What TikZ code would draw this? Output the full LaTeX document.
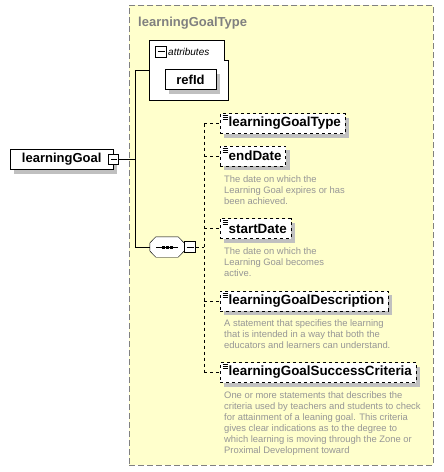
\documentclass[tikz,border=0pt]{standalone}
\usepackage{fontspec}
\setmainfont{Liberation Sans}
\usetikzlibrary{positioning,calc,shadows}
\definecolor{typeyellow}{RGB}{255,255,204}
\definecolor{titlegray}{RGB}{128,128,128}
\definecolor{docgray}{RGB}{150,150,150}
\definecolor{shadegray}{RGB}{192,192,192}
\begin{document}
\begin{tikzpicture}[x=1pt,y=-1pt,
	shade_box/.style={drop shadow={shadow xshift=4pt,shadow yshift=-4pt,fill=shadegray,opacity=1}},
	el_node/.style={draw,fill=white,shade_box,anchor=west,minimum height=20pt,inner xsep=4pt,inner ysep=0pt,
		font=\fontsize{13.4}{15}\selectfont\bfseries,execute at begin node=\hspace{4.5pt}},
	opt_node/.style={el_node,dashed,
		path picture={\foreach \d in {2,4,6}{\draw[solid,line width=0.6pt] ($(path picture bounding box.north west)+(2.5,\d)$) -- ++(5,0);}}},
	minus_box/.style={draw,fill=white,minimum size=10pt,inner sep=0pt,line width=0.8pt,
		path picture={\draw[line width=0.8pt] ($(path picture bounding box.west)+(2,0)$) -- ($(path picture bounding box.east)+(-2,0)$);}},
	doc_node/.style={anchor=north west,inner sep=0pt,align=left,text=docgray,font=\fontsize{9.4}{11}\selectfont}]
	\useasboundingbox (0,0) rectangle (444,472);
	\node[draw=titlegray,dashed,dash pattern=on 6pt off 3pt,fill=typeyellow,line width=0.8pt,minimum width=304pt,minimum height=460pt,anchor=north west,inner sep=0pt](type) at (129,5){};
	\node[anchor=base west,inner sep=0pt,text=titlegray,font=\fontsize{13}{15}\selectfont\bfseries](title) at (138,26){learningGoalType};
	% attributes
	\node[minimum width=78pt,minimum height=59pt,inner sep=0pt](attr) at (189,70.5){};
	\draw[fill=white,line width=0.8pt] (attr.north west) -- ($(attr.north east)+(-4,0)$) -- ++(0,20) -| (attr.south east) -- (attr.south west) -- cycle;
	\node[minus_box,minimum size=11pt](attrminus) at (161,51.5){};
	\node[anchor=west,inner sep=0pt,font=\fontsize{10}{12}\selectfont\itshape](attrlabel) at (168,51.5){attributes};
	\node[draw,fill=white,shade_box,minimum width=51pt,minimum height=20pt,inner sep=0pt,font=\fontsize{13}{15}\selectfont\bfseries](refid) at (190.5,79.5){refId};
	% root
	\node[draw,fill=white,shade_box,anchor=west,minimum width=103pt,minimum height=20pt,inner sep=0pt,font=\fontsize{13}{15}\selectfont\bfseries](root) at (10,159.5){learningGoal\hspace{2pt}};
	\node[minus_box](rootminus) at (113.5,159.5){};
	% sequence
	\node[minimum width=34pt,minimum height=20pt,inner sep=0pt](seq) at (167,247){};
	\fill[shadegray,shift={(4,4)}] ($(seq.north west)+(6,0)$) -- ($(seq.north east)+(-6,0)$) -- ($(seq.east)+(0,-4)$) -- ($(seq.east)+(0,4)$) -- ($(seq.south east)+(-6,0)$) -- ($(seq.south west)+(6,0)$) -- ($(seq.west)+(0,4)$) -- ($(seq.west)+(0,-4)$) -- cycle;
	\draw[fill=white] ($(seq.north west)+(6,0)$) -- ($(seq.north east)+(-6,0)$) -- ($(seq.east)+(0,-4)$) -- ($(seq.east)+(0,4)$) -- ($(seq.south east)+(-6,0)$) -- ($(seq.south west)+(6,0)$) -- ($(seq.west)+(0,4)$) -- ($(seq.west)+(0,-4)$) -- cycle;
	\draw[line width=1pt] ($(seq.center)+(-11,0)$) -- ($(seq.center)+(11,0)$);
	\foreach \dx in {-4,0,4}
		\fill ($(seq.center)+(\dx-1.5,-1.5)$) rectangle ++(3,3);
	\node[minus_box,minimum size=11pt](seqminus) at (190,247){};
	\coordinate (trunk) at (135,0);
	\draw (rootminus.east) -- (rootminus.east -| trunk);
	\draw (attr.west) -- (attr.west -| trunk) -- (seq.west -| trunk) -- (seq.west);
	% elements
	\node[opt_node](e1) at (220,123.5){learningGoalType};
	\node[opt_node](e2) at (220,156){endDate};
	\node[opt_node](e3) at (220,228.5){startDate};
	\node[opt_node](e4) at (220,301){learningGoalDescription};
	\node[opt_node](e5) at (220,372.5){learningGoalSuccessCriteria};
	\node[doc_node](d2) at (224,175){The date on which the\\Learning Goal expires or has\\been achieved.};
	\node[doc_node](d3) at (224,247){The date on which the\\Learning Goal becomes\\active.};
	\node[doc_node](d4) at (224,319){A statement that specifies the learning\\that is intended in a way that both the\\educators and learners can understand.};
	\node[doc_node](d5) at (224,391){One or more statements that describes the\\criteria used by teachers and students to check\\for attainment of a leaning goal. This criteria\\gives clear indications as to the degree to\\which learning is moving through the Zone or\\Proximal Development toward};
	\coordinate (branch) at (204,0);
	\draw[dashed] (seqminus.east) -- (seqminus.east -| branch);
	\draw[dashed] (e1.west -| branch) -- (e5.west -| branch);
	\foreach \n in {e1,e2,e3,e4,e5}
		\draw[dashed] (\n.west -| branch) -- (\n.west);
\end{tikzpicture}
\end{document}
